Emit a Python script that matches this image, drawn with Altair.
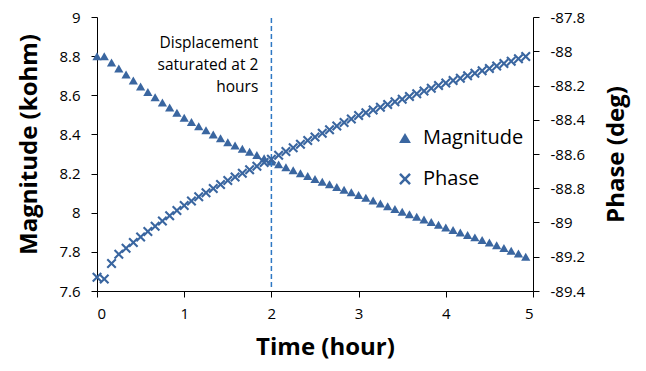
import altair as alt
import pandas as pd

# Time of each sample, minutes
minutes = [0, 5, 10, 15, 20, 25, 30, 35, 40, 45, 50, 55,
           60, 65, 70, 75, 80, 85, 90, 95, 100, 105, 110, 115,
           120, 125, 130, 135, 140, 145, 150, 155, 160, 165, 170, 175,
           180, 185, 190, 195, 200, 205, 210, 215, 220, 225, 230, 235,
           240, 245, 250, 255, 260, 265, 270, 275, 280, 285, 290, 295]

magnitude = [8.800, 8.800, 8.768, 8.737, 8.706, 8.675, 8.645, 8.617, 8.590, 8.563,
             8.537, 8.511, 8.485, 8.463, 8.442, 8.421, 8.400, 8.380, 8.360, 8.343,
             8.327, 8.311, 8.295, 8.278, 8.262, 8.247, 8.232, 8.217, 8.202, 8.187,
             8.172, 8.158, 8.145, 8.131, 8.117, 8.104, 8.090, 8.076, 8.062, 8.047,
             8.033, 8.019, 8.005, 7.992, 7.979, 7.965, 7.952, 7.938, 7.925, 7.912,
             7.899, 7.886, 7.874, 7.861, 7.848, 7.834, 7.820, 7.806, 7.792, 7.775]

phase = [-89.320, -89.330, -89.240, -89.185, -89.150, -89.117, -89.085, -89.053, -89.022, -88.991,
         -88.960, -88.930, -88.900, -88.875, -88.850, -88.826, -88.802, -88.778, -88.755, -88.734,
         -88.713, -88.692, -88.671, -88.650, -88.630, -88.608, -88.586, -88.564, -88.543, -88.521,
         -88.500, -88.479, -88.458, -88.437, -88.416, -88.396, -88.375, -88.359, -88.343, -88.327,
         -88.311, -88.295, -88.280, -88.264, -88.248, -88.232, -88.216, -88.200, -88.185, -88.171,
         -88.157, -88.143, -88.128, -88.114, -88.100, -88.086, -88.072, -88.058, -88.044, -88.030]

x_ticks = [0, 1, 2, 3, 4, 5]
mag_ticks = [7.6, 7.8, 8, 8.2, 8.4, 8.6, 8.8, 9]
phase_ticks = [-89.4, -89.2, -89, -88.8, -88.6, -88.4, -88.2, -88, -87.8]
series_names = ["Magnitude", "Phase"]

saturation_hour = [2]
note_text = ["Displacement\nsaturated at 2\nhours"]
note_hour = [1.85]
note_mag = [8.867]

BLUE = "#3a66a0"
DASH = "#2e78c4"
FONT = "Open Sans"
X_PATH = ("M-1,-0.7L-0.7,-1L0,-0.3L0.7,-1L1,-0.7L0.3,0L1,0.7L0.7,1L0,0.3"
          "L-0.7,1L-1,0.7L-0.3,0Z")

hours = [m / 60 for m in minutes]
df_mag = pd.DataFrame({"hour": hours, "value": magnitude, "series": "Magnitude"})
df_ph = pd.DataFrame({"hour": hours, "value": phase, "series": "Phase"})

x_axis = alt.Axis(values=x_ticks, title="Time (hour)", titleX=228,
                  labelExpr="'' + datum.value", labelOverlap=False,
                  titlePadding=14, labelPadding=9)
x_scale = alt.Scale(domain=[0, 5], nice=False)
x_enc = alt.X("hour:Q", scale=x_scale, axis=x_axis)

mag_axis = alt.Axis(values=mag_ticks, title="Magnitude (kohm)", orient="left",
                    labelExpr="'' + datum.value", labelOverlap=False,
                    titleY=127, titlePadding=17, labelPadding=11)
mag_scale = alt.Scale(domain=[7.6, 9], nice=False, zero=False)
mag_y = alt.Y("value:Q", scale=mag_scale, axis=mag_axis)

shape_scale = alt.Scale(domain=series_names, range=["triangle-up", X_PATH])
legend = alt.Legend(title=None, orient="none", legendX=298, legendY=111,
                    symbolSize=140, symbolFillColor=BLUE, symbolStrokeWidth=0,
                    labelFontSize=20, labelFont=FONT, labelColor="black",
                    labelOffset=8, rowPadding=21, padding=0)

mag_layer = alt.Chart(df_mag).mark_point(filled=True, size=85, opacity=1, color=BLUE).encode(
    x=x_enc,
    y=mag_y,
    shape=alt.Shape("series:N", scale=shape_scale, legend=legend),
)

rule = alt.Chart(pd.DataFrame({"hour": saturation_hour})).mark_rule(
    color=DASH, strokeDash=[5, 3], strokeWidth=1.5
).encode(x=x_enc, y=alt.value(1), y2=alt.value(271))

note = alt.Chart(pd.DataFrame({"hour": note_hour, "value": note_mag, "text": note_text})).mark_text(
    align="right", baseline="middle", font=FONT, fontSize=15.5, lineHeight=22, color="black",
    lineBreak="\n"
).encode(x=x_enc, y=mag_y, text="text:N")

left = alt.layer(mag_layer, rule, note)

ph_layer = alt.Chart(df_ph).mark_point(filled=True, size=100, opacity=1, color=BLUE).encode(
    x=x_enc,
    y=alt.Y("value:Q", scale=alt.Scale(domain=[-89.4, -87.8], nice=False, zero=False),
            axis=alt.Axis(values=phase_ticks, title="Phase (deg)", orient="right",
                          titleAngle=270, titleBaseline="top",
                          labelExpr="'' + datum.value", labelOverlap=False,
                          titlePadding=20, labelPadding=11)),
    shape=alt.Shape("series:N", scale=shape_scale, legend=legend),
)

chart = alt.layer(left, ph_layer).resolve_scale(y="independent").properties(
    width=436, height=274,
    padding={"left": 89, "top": 9, "right": 105, "bottom": 72},
    autosize=alt.AutoSizeParams(type="none"),
).configure_view(stroke=None).configure_axis(
    grid=False, domainColor="black", tickColor="black", domainWidth=1, tickWidth=1,
    tickSize=6, labelFont=FONT, labelFontSize=15, labelColor="black", labelOverlap=False,
    titleFont=FONT, titleFontSize=24, titleFontWeight="bold", titleColor="black",
)

chart.save("out.html", embed_options={"renderer": "svg", "actions": False})
